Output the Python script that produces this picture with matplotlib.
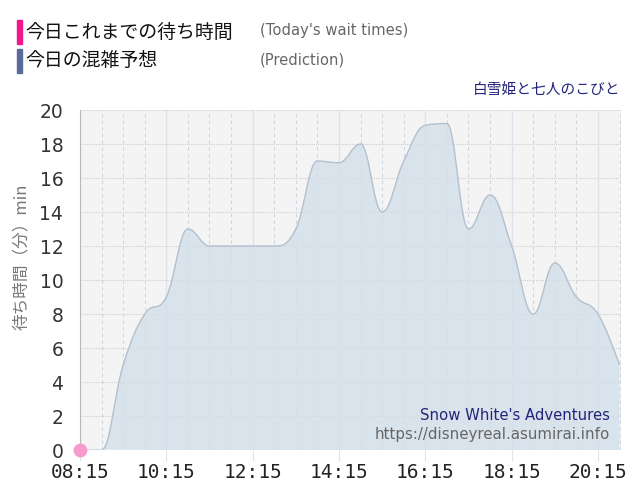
import matplotlib
matplotlib.use("Agg")
import matplotlib.pyplot as plt
import numpy as np
from matplotlib.path import Path
from matplotlib.patches import PathPatch, Rectangle

# prediction, every 30 min from 08:15
times = ["08:15", "08:45", "09:15", "09:45", "10:15", "10:45", "11:15", "11:45",
         "12:15", "12:45", "13:15", "13:45", "14:15", "14:45", "15:15", "15:45",
         "16:15", "16:45", "17:15", "17:45", "18:15", "18:45", "19:15", "19:45",
         "20:15", "20:45"]
prediction = [0, 0, 5, 8, 9, 13, 12, 12, 12, 12, 13, 17, 16.9, 18, 14, 17,
              19.1, 19.2, 13, 15, 12, 8, 11, 9, 8, 5]
# today's wait times so far
today_times = ["08:15"]
today_waits = [0]

tick_labels = ["08:15", "10:15", "12:15", "14:15", "16:15", "18:15", "20:15"]


def to_min(t):
    h, m = t.split(":")
    return int(h) * 60 + int(m) - (8 * 60 + 15)


def spline_controls(xs, ys):
    # highcharts-like spline, smoothing 1.5
    n = len(xs)
    left = [(xs[i], ys[i]) for i in range(n)]
    right = [(xs[i], ys[i]) for i in range(n)]
    for i in range(1, n - 1):
        px, py = xs[i], ys[i]
        lx, ly = xs[i - 1], ys[i - 1]
        nx, ny = xs[i + 1], ys[i + 1]
        lcx = (1.5 * px + lx) / 2.5
        lcy = (1.5 * py + ly) / 2.5
        rcx = (1.5 * px + nx) / 2.5
        rcy = (1.5 * py + ny) / 2.5
        if rcx != lcx:
            corr = (rcy - lcy) * (rcx - px) / (rcx - lcx) + py - rcy
            lcy += corr
            rcy += corr
        if lcy > ly and lcy > py:
            lcy = max(ly, py)
            rcy = 2 * py - lcy
        elif lcy < ly and lcy < py:
            lcy = min(ly, py)
            rcy = 2 * py - lcy
        if rcy > ny and rcy > py:
            rcy = max(ny, py)
            lcy = 2 * py - rcy
        elif rcy < ny and rcy < py:
            rcy = min(ny, py)
            lcy = 2 * py - rcy
        left[i] = (lcx, lcy)
        right[i] = (rcx, rcy)
    verts = [(xs[0], ys[0])]
    codes = [Path.MOVETO]
    for i in range(1, n):
        verts += [right[i - 1], left[i], (xs[i], ys[i])]
        codes += [Path.CURVE4] * 3
    return verts, codes


xs = [to_min(t) for t in times]
verts, codes = spline_controls(xs, prediction)

fig = plt.figure(figsize=(6.4, 5), dpi=100)
ax = fig.add_axes([80 / 640, 50 / 500, 541 / 640, 340 / 500])
ax.set_facecolor("#f4f4f4")

ax.set_xlim(0, 752)
ax.set_ylim(0, 20)

# grid
for y in range(2, 21, 2):
    ax.axhline(y, color="#cfcfcf", lw=0.8, ls=(0, (1, 1)), zorder=1)
for m in range(0, 760, 30):
    if m % 120 == 0:
        ax.axvline(m, color="#dde3ea", lw=1, zorder=1)
    else:
        ax.axvline(m, color="#cdd6e0", lw=0.8, ls=(0, (3, 3)), zorder=1)
ax.axvline(752, color="#cfcfcf", lw=0.8, ls=(0, (1, 1)), zorder=1)

# area
area_verts = [(xs[0], 0)] + verts + [(xs[-1], 0), (xs[0], 0)]
area_codes = [Path.MOVETO, Path.LINETO] + codes[1:] + [Path.LINETO, Path.CLOSEPOLY]
ax.add_patch(PathPatch(Path(area_verts, area_codes), facecolor="#d5e0ea",
                       edgecolor="none", alpha=0.85, zorder=2))
ax.add_patch(PathPatch(Path(verts, codes), facecolor="none",
                       edgecolor="#b3c0cd", lw=1, zorder=3))

ax.plot([0, 90], [0, 0], color="white", lw=1, zorder=3)
ax.plot([to_min(t) for t in today_times], today_waits, "o", color="#f59ccc",
        ms=9, zorder=5, clip_on=False)

for s in ["top", "right", "bottom"]:
    ax.spines[s].set_visible(False)
ax.spines["left"].set_color("#b8b8c0")
ax.spines["left"].set_zorder(4)

ax.set_yticks(range(0, 21, 2))
ax.set_xticks([to_min(t) for t in tick_labels])
ax.set_xticklabels(tick_labels, family="DejaVu Sans Mono", fontsize=14, color="#222222")
ax.tick_params(axis="y", length=0, pad=12, labelsize=13.5, labelcolor="#333333")
ax.tick_params(axis="x", length=8, color="#dde3ea", pad=1)

ax.set_ylabel("待ち時間（分）min", family=["Noto Sans CJK JP", "DejaVu Sans"],
              fontsize=12, color="#777777")
ax.yaxis.set_label_coords(-50 / 541, (450 - 257) / 340)

# header legend
fig.patches.append(Rectangle((17 / 640, 1 - 44 / 500), 5 / 640, 24 / 500,
                             transform=fig.transFigure, color="#f0168c"))
fig.patches.append(Rectangle((17 / 640, 1 - 73 / 500), 5 / 640, 24 / 500,
                             transform=fig.transFigure, color="#5a6a9a"))
jp = ["Noto Sans CJK JP", "DejaVu Sans"]
fig.text(25 / 640, 1 - 32 / 500, "今日これまでの待ち時間", family=jp, fontsize=13.6,
         color="#111111", va="center")
fig.text(25 / 640, 1 - 61 / 500, "今日の混雑予想", family=jp, fontsize=13.6,
         color="#111111", va="center")
fig.text(260 / 640, 1 - 31 / 500, "(Today's wait times)", fontsize=10.6,
         color="#666666", va="center")
fig.text(260 / 640, 1 - 60 / 500, "(Prediction)", fontsize=10.6,
         color="#666666", va="center")
fig.text(620 / 640, 1 - 90 / 500, "白雪姫と七人のこびと", family=jp, fontsize=10.6,
         color="#23237a", va="center", ha="right")

ax.text(530 / 541, 35 / 340, "Snow White's Adventures",
        transform=ax.transAxes, fontsize=10.7, color="#23237a", ha="right",
        va="center", zorder=6)
ax.text(530 / 541, 15 / 340, "https://disneyreal.asumirai.info",
        transform=ax.transAxes, fontsize=10.8, color="#666666", ha="right",
        va="center", zorder=6)

fig.savefig("out.png", dpi=100)
